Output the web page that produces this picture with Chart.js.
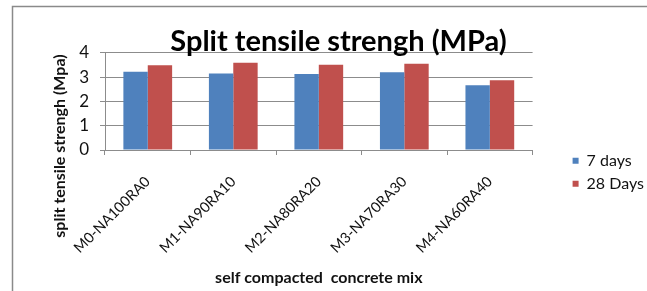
<!DOCTYPE html>
<html>
<head>
<meta charset="utf-8">
<script src="https://cdn.jsdelivr.net/npm/chart.js@4"></script>
<style>
  html, body { margin: 0; padding: 0; background: #fff; }
  #wrap { position: relative; width: 647px; height: 291px; }
</style>
</head>
<body>
<div id="wrap"><canvas id="mycanvas" width="647" height="291"></canvas></div>
<script>
var mixes = ["M0-NA100RA0", "M1-NA90RA10", "M2-NA80RA20", "M3-NA70RA30", "M4-NA60RA40"];
var days7 = [3.22, 3.14, 3.12, 3.2, 2.66];
var days28 = [3.48, 3.59, 3.5, 3.55, 2.87];
var yTicks = [0, 1, 2, 3, 4];

var font = "Lato";

// frame and the y axis title (centred on the whole chart like excel does)
var extras = {
  id: "extras",
  beforeDraw: function(chart) {
    var c = chart.ctx;
    c.save();
    c.strokeStyle = "#8a8a8a";
    c.lineWidth = 1.5;
    c.beginPath();
    c.moveTo(12.5, 291);
    c.lineTo(12.5, 6.5);
    c.lineTo(647, 6.5);
    c.stroke();
    c.restore();
  },
  afterDraw: function(chart) {
    var c = chart.ctx;
    c.save();
    c.translate(60, 146);
    c.rotate(-Math.PI / 2);
    c.font = "bold 16px " + font;
    c.fillStyle = "#111";
    c.textAlign = "center";
    c.textBaseline = "middle";
    c.fillText("split tensile strengh (Mpa)", 0, 0);
    c.restore();
  }
};

var chartdata = {
  labels: mixes,
  datasets: [
    {
      label: "7 days",
      backgroundColor: "#4F81BD",
      data: days7
    },
    {
      label: "28 Days",
      backgroundColor: "#C0504D",
      data: days28
    }
  ]
};

var ctx = document.getElementById("mycanvas");

var BarGraph = new Chart(ctx, {
  type: "bar",
  data: chartdata,
  plugins: [extras],
  options: {
    responsive: false,
    animation: false,
    layout: { padding: { left: 23, right: -7, top: 0, bottom: 1 } },
    datasets: { bar: { categoryPercentage: 0.57, barPercentage: 1 } },
    plugins: {
      title: {
        display: true,
        text: "Split tensile strengh (MPa)",
        color: "#000",
        font: { family: font, size: 29, weight: "bold" },
        padding: { top: 24, bottom: -6.1 }
      },
      legend: {
        position: "right",
        align: "center",
        title: { display: true, text: "", padding: { top: 40, bottom: 0 } },
        labels: {
          boxWidth: 6,
          boxHeight: 6,
          padding: 7,
          color: "#111",
          font: { family: font, size: 16 }
        }
      },
      tooltip: { enabled: false }
    },
    scales: {
      x: {
        afterFit: function(s) { s.height = 140; },
        grid: { offset: true, drawOnChartArea: false, drawTicks: true, tickLength: 5, color: "#8c8c8c" },
        border: { color: "#8c8c8c" },
        ticks: {
          minRotation: 45,
          maxRotation: 45,
          padding: 18,
          color: "#111",
          font: { family: font, size: 14.5 }
        },
        title: {
          display: true,
          text: "self compacted  concrete mix",
          color: "#111",
          font: { family: font, size: 16, weight: "bold" },
          padding: { top: 4, bottom: 3 }
        }
      },
      y: {
        min: 0,
        max: 4,
        afterFit: function(s) { s.width = 82; },
        afterBuildTicks: function(s) { s.ticks = yTicks.map(function(v) { return { value: v }; }); },
        grid: { color: "#8c8c8c", tickLength: 5 },
        border: { color: "#8c8c8c" },
        ticks: { padding: 11, color: "#111", font: { family: font, size: 17 } }
      },
      gap: {
        position: "right",
        display: true,
        afterFit: function(s) { s.width = 33; },
        grid: { display: false },
        border: { display: false },
        ticks: { display: false }
      }
    }
  }
});
</script>
</body>
</html>
